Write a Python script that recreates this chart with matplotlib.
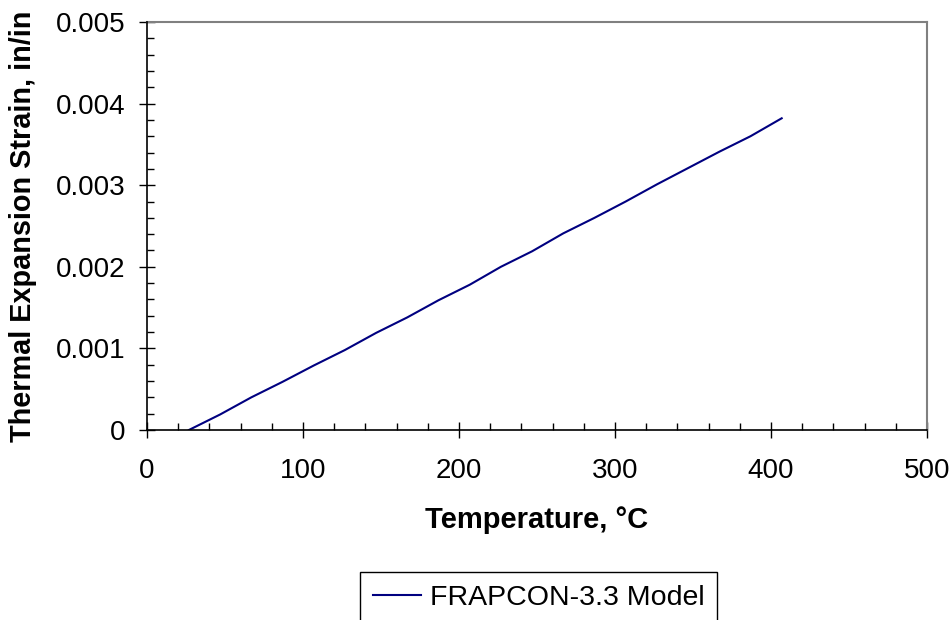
import matplotlib
matplotlib.use("Agg")
import matplotlib.pyplot as plt
import matplotlib.ticker as ticker

plt.rcParams["font.family"] = ["Liberation Sans", "DejaVu Sans"]

# FRAPCON-3.3 thermal expansion, 300 K to 680 K in 20 K steps
temperature_c = [26.85, 46.85, 66.85, 86.85, 106.85, 126.85, 146.85, 166.85,
                 186.85, 206.85, 226.85, 246.85, 266.85, 286.85, 306.85,
                 326.85, 346.85, 366.85, 386.85, 406.85]
strain = [0.0, 0.00019, 0.00040, 0.00059, 0.00079, 0.00098, 0.00119, 0.00138,
          0.00159, 0.00178, 0.00200, 0.00219, 0.00241, 0.00260, 0.00280,
          0.00301, 0.00321, 0.00341, 0.00360, 0.00382]
series_label = "FRAPCON-3.3 Model"

fig = plt.figure(figsize=(9.53, 6.2), dpi=100)
ax = fig.add_axes([147 / 953, 1 - 430 / 620, 780 / 953, 408 / 620])

ax.plot(temperature_c, strain, color="#000080", linewidth=1.5, label=series_label)

ax.set_xlim(0, 500)
ax.set_ylim(0, 0.005)
ax.xaxis.set_major_locator(ticker.MultipleLocator(100))
ax.xaxis.set_minor_locator(ticker.MultipleLocator(20))
ax.yaxis.set_major_locator(ticker.MultipleLocator(0.001))
ax.yaxis.set_minor_locator(ticker.MultipleLocator(0.0002))
ax.yaxis.set_major_formatter(ticker.FuncFormatter(lambda v, p: "0" if v == 0 else f"{v:.3f}"))

ax.tick_params(which="major", direction="inout", length=11, width=1, labelsize=20)
ax.tick_params(axis="x", which="major", pad=14.5)
ax.tick_params(axis="y", which="major", pad=10)
ax.tick_params(which="minor", direction="in", length=5, width=1)

for side in ("top", "right"):
    ax.spines[side].set_color("#808080")
    ax.spines[side].set_linewidth(1.5)
for side in ("left", "bottom"):
    ax.spines[side].set_color("black")
    ax.spines[side].set_linewidth(1.2)
    ax.spines[side].set_zorder(3)

ax.set_xlabel("Temperature, °C", fontsize=21, fontweight="bold", labelpad=16)
ax.set_ylabel("Thermal Expansion Strain, in/in", fontsize=20.8, fontweight="bold")
ax.yaxis.set_label_coords(-0.141, 0.5)

leg = ax.legend(loc="upper left", bbox_to_anchor=(360 / 953, 1 - 572 / 620),
                bbox_transform=fig.transFigure, fontsize=20.5, fancybox=False,
                edgecolor="black", handlelength=1.7, borderpad=0.45, borderaxespad=0,
                handletextpad=0.3)
leg.get_frame().set_linewidth(1)
leg.get_frame().set_alpha(1)

fig.savefig("out.png", dpi=100)
